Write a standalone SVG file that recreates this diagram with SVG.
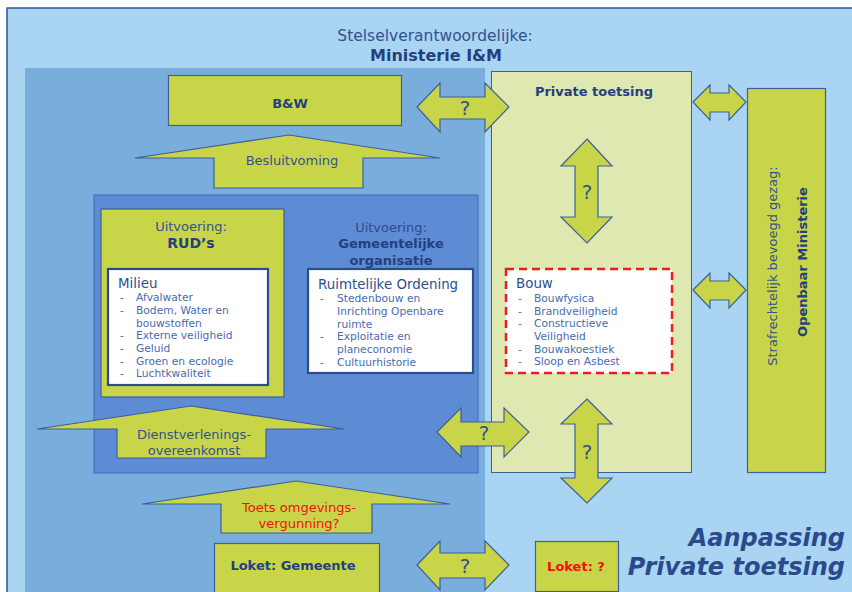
<svg xmlns="http://www.w3.org/2000/svg" width="852" height="592" viewBox="0 0 852 592">
<style>
text{font-family:"DejaVu Sans",Verdana,sans-serif;fill:#34518f}
.b{font-weight:bold;fill:#253f7e}
.box{fill:#c8d548;stroke:#3e5f9c;stroke-width:1.2}
.arr{fill:#c8d548;stroke:#3e5f9c;stroke-width:1.2;stroke-linejoin:miter}
.wb{fill:#fff;stroke:#2b4c8e;stroke-width:2.2}
.li{font-size:10.7px;fill:#4a6bb0}
.h{font-size:13.4px;fill:#2e4f90}
.q{font-size:20px;text-anchor:middle}
.red{fill:#f01010}
</style>
<rect x="0" y="0" width="852" height="592" fill="#fff"/>
<rect x="7" y="8" width="850" height="590" fill="#a9d4f2" stroke="#2e5596" stroke-width="1.5"/>
<rect x="25" y="68" width="460" height="530" fill="#79addc"/>
<rect x="94" y="195" width="384" height="278" fill="#5d8bd4" stroke="#3a70c0" stroke-width="1"/>
<g id="title">
<text x="435" y="41" font-size="15.5" text-anchor="middle">Stelselverantwoordelijke:</text>
<text x="436" y="61" font-size="16" text-anchor="middle" class="b">Ministerie I&amp;M</text>
</g>
<g id="bw"><rect class="box" x="168.5" y="75.5" width="233" height="50"/><text x="290" y="108" font-size="13" text-anchor="middle" class="b">B&amp;W</text></g>
<g id="private"><rect x="491.5" y="71.5" width="200" height="401" fill="#e0e8b2" stroke="#3e5f9c" stroke-width="1"/><text x="594" y="96" font-size="13" text-anchor="middle" class="b">Private toetsing</text></g>
<g id="om"><rect class="box" x="747.5" y="88.5" width="78" height="384"/>
<text transform="translate(777,266) rotate(-90)" font-size="13" text-anchor="middle">Strafrechtelijk bevoegd gezag:</text>
<text transform="translate(807,262) rotate(-90)" font-size="13" text-anchor="middle" class="b">Openbaar Ministerie</text></g>
<g id="rud"><rect class="box" x="101" y="209" width="183" height="188"/>
<text x="191" y="231" font-size="13" text-anchor="middle">Uitvoering:</text>
<text x="191" y="248" font-size="14" text-anchor="middle" class="b">RUD’s</text></g>
<g id="milieu"><rect class="wb" x="108" y="269" width="160" height="116"/>
<text x="118" y="288" class="h">Milieu</text>
<g class="li">
<text x="120" y="301" class="li">-</text><text x="136" y="301" class="li">Afvalwater</text>
<text x="120" y="314" class="li">-</text><text x="136" y="314" class="li">Bodem, Water en</text>
<text x="136" y="326.5" class="li">bouwstoffen</text>
<text x="120" y="339" class="li">-</text><text x="136" y="339" class="li">Externe veiligheid</text>
<text x="120" y="352" class="li">-</text><text x="136" y="352" class="li">Geluid</text>
<text x="120" y="364.5" class="li">-</text><text x="136" y="364.5" class="li">Groen en ecologie</text>
<text x="120" y="377" class="li">-</text><text x="136" y="377" class="li">Luchtkwaliteit</text>
</g></g>
<g id="gemeente">
<text x="391" y="232" font-size="13" text-anchor="middle" fill="#2f4c8c" style="fill:#2f4c8c">Uitvoering:</text>
<text x="391" y="248" font-size="13" text-anchor="middle" class="b">Gemeentelijke</text>
<text x="391" y="265" font-size="13" text-anchor="middle" class="b">organisatie</text></g>
<g id="ro"><rect class="wb" x="308" y="269" width="165" height="104"/>
<text x="318" y="289" class="h">Ruimtelijke Ordening</text>
<text x="320" y="302" class="li">-</text><text x="337" y="302" class="li">Stedenbouw en</text>
<text x="337" y="315" class="li">Inrichting Openbare</text>
<text x="337" y="328" class="li">ruimte</text>
<text x="320" y="340" class="li">-</text><text x="337" y="340" class="li">Exploitatie en</text>
<text x="337" y="353" class="li">planeconomie</text>
<text x="320" y="366" class="li">-</text><text x="337" y="366" class="li">Cultuurhistorie</text></g>
<g id="bouw"><rect x="506" y="269" width="166" height="104" fill="#fff" stroke="#ee1c1c" stroke-width="2.5" stroke-dasharray="8,5"/>
<text x="516" y="288" class="h">Bouw</text>
<text x="518" y="302" class="li">-</text><text x="534" y="302" class="li">Bouwfysica</text>
<text x="518" y="315" class="li">-</text><text x="534" y="315" class="li">Brandveiligheid</text>
<text x="518" y="327" class="li">-</text><text x="534" y="327" class="li">Constructieve</text>
<text x="534" y="340" class="li">Veiligheid</text>
<text x="518" y="353" class="li">-</text><text x="534" y="353" class="li">Bouwakoestiek</text>
<text x="518" y="365" class="li">-</text><text x="534" y="365" class="li">Sloop en Asbest</text></g>
<g id="loket-gemeente"><rect class="box" x="214.5" y="543.5" width="165" height="60"/><text x="293" y="570" font-size="13" text-anchor="middle" class="b">Loket: Gemeente</text></g>
<g id="loket-q"><rect class="box" x="535.5" y="541.5" width="83" height="50"/><text x="576" y="571" font-size="13" text-anchor="middle" class="b red">Loket: ?</text></g>
<g id="aanpassing">
<text x="845" y="546" font-size="24" text-anchor="end" font-style="italic" class="b" style="fill:#2a4a8c">Aanpassing</text>
<text x="845" y="575" font-size="24" text-anchor="end" font-style="italic" class="b" style="fill:#2a4a8c">Private toetsing</text></g>
<g id="connectors">
<polygon class="arr" points="289,135 440,158 363,158 363,188 214,188 214,158 135,158"/>
<text x="292" y="165" font-size="13" text-anchor="middle">Besluitvoming</text>
<polygon class="arr" points="191,406 344,429 266,429 266,458 117,458 117,429 37,429"/>
<text x="194" y="439" font-size="13" text-anchor="middle">Dienstverlenings-</text>
<text x="194" y="455" font-size="13" text-anchor="middle">overeenkomst</text>
<polygon class="arr" points="296,481 450,504 372,504 372,533 221,533 221,504 142,504"/>
<text x="299" y="512" font-size="13" text-anchor="middle" class="red">Toets omgevings-</text>
<text x="299" y="528" font-size="13" text-anchor="middle" class="red">vergunning?</text>
<polygon class="arr" points="417,107 440,83 440,97 485,97 485,83 509,107 485,132 485,119 440,119 440,132"/>
<text x="465" y="115" class="q">?</text>
<polygon class="arr" points="587,139 612,166 598,166 598,217 612,217 587,243 561,217 575,217 575,166 561,166"/>
<text x="587" y="199" class="q">?</text>
<polygon class="arr" points="437,432 461,408 461,422 504,422 504,408 529,432 504,457 504,446 461,446 461,457"/>
<text x="484" y="440" class="q">?</text>
<polygon class="arr" points="587,399 612,424 598,424 598,478 612,478 587,503 561,478 575,478 575,424 561,424"/>
<text x="587" y="459" class="q">?</text>
<polygon class="arr" points="417,565 440,541 440,553 485,553 485,541 509,565 485,590 485,578 440,578 440,590"/>
<text x="465" y="573" class="q">?</text>
<polygon class="arr" points="693,102 710,85 710,93 729,93 729,85 746,102 729,120 729,112 710,112 710,120"/>
<polygon class="arr" points="693,290 710,273 710,281 729,281 729,273 746,290 729,308 729,300 710,300 710,308"/>
</g>
</svg>
